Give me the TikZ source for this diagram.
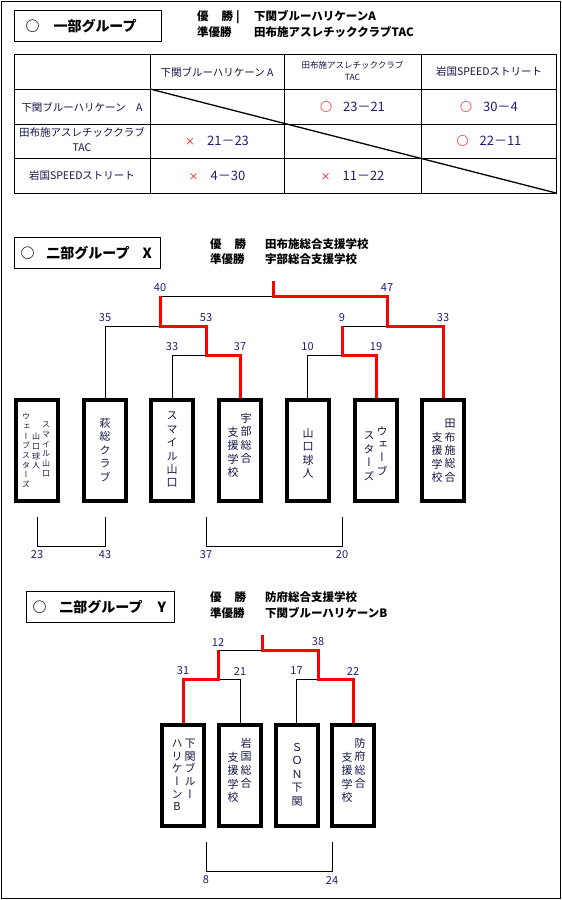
\documentclass[tikz,border=0pt]{standalone}
\usepackage{fontspec}
\setmainfont{Noto Sans CJK JP}
\newfontfamily\tatefont{Noto Sans CJK JP}[RawFeature=+vert]
\definecolor{teamnavy}{RGB}{20,20,70}
\definecolor{scorenavy}{RGB}{30,30,120}
\makeatletter
% characters stacked top to bottom, one per line
\newcommand\tate@end{}
\newcommand\tate[2][13.4pt]{\vbox{\baselineskip=#1\lineskiplimit=-100pt\lineskip=0pt\tate@loop#2\tate@end}}
\def\tate@loop#1{\ifx\tate@end#1\else\hbox to 1em{\hss#1\hss}\expandafter\tate@loop\fi}
\makeatother
\tikzset{
  frameline/.style={line width=1pt},
  titlebox/.style={draw, line width=1pt, anchor=north west, minimum height=31pt,
    inner xsep=6pt, inner ysep=0pt, align=left, font=\fontsize{14}{16}\selectfont\bfseries},
  header/.style={anchor=base west, inner sep=0pt, font=\fontsize{11.5}{14}\selectfont\bfseries},
  cell/.style={inner sep=0pt, align=center, text=teamnavy, font=\fontsize{10.5}{15}\selectfont},
  smallcell/.style={cell, font=\fontsize{8.5}{11.5}\selectfont},
  scorecell/.style={inner sep=0pt, text=scorenavy, font=\fontsize{13}{15}\selectfont},
  teambox/.style={draw, line width=4pt, minimum width=42pt, minimum height=101pt, inner sep=0pt},
  tatecol/.style={anchor=north, inner sep=0pt, text=teamnavy, font=\tatefont\fontsize{11}{13}\selectfont},
  tatesmall/.style={tatecol, font=\tatefont\fontsize{8}{10}\selectfont},
  winline/.style={red, line width=3pt},
  loseline/.style={line width=0.9pt},
  num/.style={inner sep=0pt, text=scorenavy, font=\fontsize{11}{12}\selectfont},
}
\newcommand\maru{{\color{red}\fontsize{12}{12}\selectfont\bfseries ○}\hspace{11pt}}
\newcommand\batsu{{\color{red}\fontsize{10}{12}\selectfont ×}\hspace{12pt}}
\begin{document}
\begin{tikzpicture}[x=1pt, y=-1pt]
  \useasboundingbox (0,0) rectangle (562,900);
  \draw[frameline] (1,1) rectangle (560,898);

  % group 1: league table
  \node[titlebox, text width=135pt] (grp1) at (14,10) {\hspace{5pt}○\hspace{14pt}一部グループ};
  \node[header] (win1k) at (197,20.5) {\makebox[36pt]{優\hfill 勝}\hspace{3pt}|};
  \node[header] (win1v) at (254,20.5) {下関ブルーハリケーンA};
  \node[header] (run1k) at (197,36.5) {準優勝};
  \node[header] (run1v) at (254,36.5) {田布施アスレチッククラブTAC};

  \draw[line width=0.9pt] (14,54) rectangle (556,193);
  \foreach \x in {150,284,421}
    \draw[line width=0.9pt] (\x,54) -- (\x,193);
  \foreach \y in {89,124,158}
    \draw[line width=0.9pt] (14,\y) -- (556,\y);
  \draw[line width=1.3pt] (150,89) -- (556,193);

  \node[cell] (h1) at (217,72) {下関ブルーハリケーン A};
  \node[smallcell] (h2) at (352.5,71) {田布施アスレチッククラブ\\TAC};
  \node[cell] (h3) at (489,72) {岩国SPEEDストリート};
  \node[cell] (r1) at (82,107) {下関ブルーハリケーン　A};
  \node[cell] (r2) at (82,140) {田布施アスレチッククラブ\\TAC};
  \node[cell] (r3) at (82,176) {岩国SPEEDストリート};
  \node[scorecell] (s12) at (352.5,106.5) {\maru 23－21};
  \node[scorecell] (s13) at (489,106.5) {\maru 30－4};
  \node[scorecell] (s21) at (217,141) {\batsu 21－23};
  \node[scorecell] (s23) at (489,141) {\maru 22－11};
  \node[scorecell] (s31) at (217,175.5) {\batsu 4－30};
  \node[scorecell] (s32) at (352.5,175.5) {\batsu 11－22};

  % group X: knockout
  \node[titlebox, text width=134pt] (grpx) at (14,237) {○\hspace{12pt}二部グループ\hspace{13pt}X};
  \node[header] (winxk) at (210,248.5) {\makebox[36pt]{優\hfill 勝}};
  \node[header] (winxv) at (265,248.5) {田布施総合支援学校};
  \node[header] (runxk) at (210,263.5) {準優勝};
  \node[header] (runxv) at (265,263.5) {宇部総合支援学校};

  \node[teambox] (xcombo) at (37,450.5) {};
  \node[teambox] (xhagi) at (105,450.5) {};
  \node[teambox] (xsmile) at (172,450.5) {};
  \node[teambox] (xube) at (240,450.5) {};
  \node[teambox] (xkyujin) at (307.5,450.5) {};
  \node[teambox] (xwave) at (376,450.5) {};
  \node[teambox] (xtabuse) at (443,450.5) {};

  \node[tatesmall] (xcombo1) at (46,422) {\tate[9.7pt]{スマイル山口}};
  \node[tatesmall] (xcombo2) at (36,433) {\tate[9.7pt]{山口球人}};
  \node[tatesmall] (xcombo3) at (26,413) {\tate[9.7pt]{ウェーブスターズ}};
  \node[tatecol] (xhagi1) at (105,418) {\tate{萩総クラブ}};
  \node[tatecol] (xsmile1) at (172,412) {\tate{スマイル山口}};
  \node[tatecol] (xube1) at (246,413) {\tate{宇部総合}};
  \node[tatecol] (xube2) at (233,427) {\tate{支援学校}};
  \node[tatecol] (xkyujin1) at (308,428) {\tate{山口球人}};
  \node[tatecol] (xwave1) at (382,426) {\tate{ウェーブ}};
  \node[tatecol] (xwave2) at (369,432) {\tate{スターズ}};
  \node[tatecol] (xtabuse1) at (450,419) {\tate{田布施総合}};
  \node[tatecol] (xtabuse2) at (437,432) {\tate{支援学校}};

  \coordinate (xtop) at (273,281);
  \coordinate (xfin) at (273,296);
  \coordinate (x40) at (160,296);
  \coordinate (x47) at (387,296);
  \coordinate (x35) at (105,326);
  \coordinate (x53) at (206,326);
  \coordinate (x9) at (342,326);
  \coordinate (x33r) at (443,326);
  \coordinate (x33l) at (172,355);
  \coordinate (x37) at (240,355);
  \coordinate (x10) at (307.5,355);
  \coordinate (x19) at (376,355);

  \draw[loseline] (xhagi.north) -- (x35) -- (x40 |- x35);
  \draw[loseline] (xsmile.north) -- (x33l) -- (x53 |- x33l);
  \draw[loseline] (xkyujin.north) -- (x10) -- (x9 |- x10);
  \draw[loseline] (x9) -- (x47 |- x9);
  \draw[loseline] (x40) -- (xfin);
  \draw[winline] (xube.north) -- (x37) -- (x53 |- x37) -- (x53) -- (x40 |- x53) -- (x40);
  \draw[winline] (xwave.north) -- (x19) -- (x9 |- x19) -- (x9);
  \draw[winline] (xtop) -- (xfin) -- (x47) -- (x47 |- x33r) -- (x33r) -- (xtabuse.north);

  \node[num] (n40) at ([yshift=8pt]x40) {40};
  \node[num] (n47) at ([yshift=8pt]x47) {47};
  \node[num] (n35) at ([yshift=8pt]x35) {35};
  \node[num] (n53) at ([yshift=8pt]x53) {53};
  \node[num] (n9) at ([yshift=8pt]x9) {9};
  \node[num] (n33r) at ([yshift=8pt]x33r) {33};
  \node[num] (n33l) at ([yshift=8pt]x33l) {33};
  \node[num] (n37) at ([yshift=8pt]x37) {37};
  \node[num] (n10) at ([yshift=8pt]x10) {10};
  \node[num] (n19) at ([yshift=8pt]x19) {19};

  \coordinate (x23) at (37,546);
  \coordinate (x43) at (105,546);
  \coordinate (x37b) at (206,546);
  \coordinate (x20) at (342,546);
  \draw[loseline] (x23) ++(0,-29) -- (x23) -- (x43) -- ++(0,-29);
  \draw[loseline] (x37b) ++(0,-29) -- (x37b) -- (x20) -- ++(0,-29);
  \node[num] (n23) at ([yshift=-9pt]x23) {23};
  \node[num] (n43) at ([yshift=-9pt]x43) {43};
  \node[num] (n37b) at ([yshift=-9pt]x37b) {37};
  \node[num] (n20) at ([yshift=-9pt]x20) {20};

  % group Y: knockout
  \node[titlebox, text width=136pt] (grpy) at (26,591) {○\hspace{13pt}二部グループ\hspace{15pt}Y};
  \node[header] (winyk) at (210,601.5) {\makebox[36pt]{優\hfill 勝}};
  \node[header] (winyv) at (265,601.5) {防府総合支援学校};
  \node[header] (runyk) at (210,617.5) {準優勝};
  \node[header] (runyv) at (265,617.5) {下関ブルーハリケーンB};

  \node[teambox] (ysimo) at (183,775) {};
  \node[teambox] (yiwa) at (240,775) {};
  \node[teambox] (yson) at (296.5,775) {};
  \node[teambox] (yhofu) at (353,775) {};

  \node[tatecol] (ysimo1) at (190,739) {\tate[12.6pt]{下関ブルー}};
  \node[tatecol] (ysimo2) at (177,740) {\tate[12.6pt]{ハリケーンB}};
  \node[tatecol] (yiwa1) at (246,738) {\tate{岩国総合}};
  \node[tatecol] (yiwa2) at (233,752) {\tate{支援学校}};
  \node[tatecol] (yson1) at (297,743) {\tate{ＳＯＮ下関}};
  \node[tatecol] (yhofu1) at (360,738) {\tate{防府総合}};
  \node[tatecol] (yhofu2) at (347,752) {\tate{支援学校}};

  \coordinate (ytop) at (262,635);
  \coordinate (yfin) at (262,650);
  \coordinate (y12) at (218,650);
  \coordinate (y38) at (318,650);
  \coordinate (y31) at (183,679);
  \coordinate (y21) at (240,679);
  \coordinate (y17) at (296.5,679);
  \coordinate (y22) at (353,679);

  \draw[loseline] (y12) -- (yfin);
  \draw[loseline] (y12 |- y21) -- (y21) -- (yiwa.north);
  \draw[loseline] (yson.north) -- (y17) -- (y38 |- y17);
  \draw[winline] (ysimo.north) -- (y31) -- (y12 |- y31) -- (y12);
  \draw[winline] (ytop) -- (yfin) -- (y38) -- (y38 |- y22) -- (y22) -- (yhofu.north);

  \node[num] (n12) at ([yshift=8pt]y12) {12};
  \node[num] (n38) at ([yshift=8pt]y38) {38};
  \node[num] (n31) at ([yshift=8pt]y31) {31};
  \node[num] (n21) at ([yshift=8pt]y21) {21};
  \node[num] (n17) at ([yshift=8pt]y17) {17};
  \node[num] (n22) at ([yshift=8pt]y22) {22};

  \coordinate (y8) at (206,871);
  \coordinate (y24) at (332,871);
  \draw[loseline] (y8) ++(0,-29) -- (y8) -- (y24) -- ++(0,-29);
  \node[num] (n8) at ([yshift=-9pt]y8) {8};
  \node[num] (n24) at ([yshift=-9pt]y24) {24};
\end{tikzpicture}
\end{document}
